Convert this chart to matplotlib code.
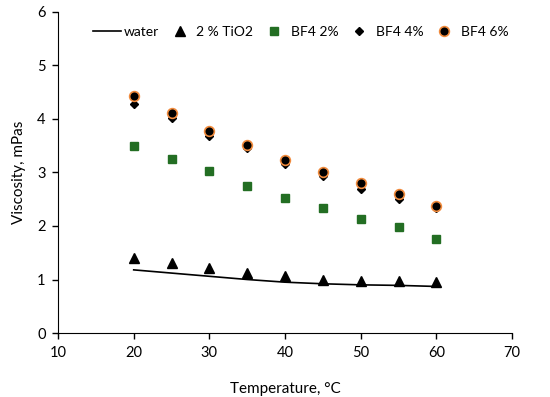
import matplotlib
matplotlib.use("Agg")
import matplotlib.pyplot as plt

temps = [20, 25, 30, 35, 40, 45, 50, 55, 60]
water = [1.18, 1.12, 1.06, 1.00, 0.95, 0.92, 0.90, 0.89, 0.87]
tio2 = [1.40, 1.30, 1.21, 1.13, 1.07, 1.00, 0.98, 0.97, 0.96]
bf4_2 = [3.50, 3.26, 3.02, 2.75, 2.52, 2.33, 2.14, 1.98, 1.75]
bf4_4 = [4.28, 4.01, 3.68, 3.45, 3.15, 2.93, 2.70, 2.50, 2.33]
bf4_6 = [4.43, 4.12, 3.78, 3.52, 3.23, 3.00, 2.80, 2.60, 2.37]

plt.rcParams["font.family"] = ["Lato", "DejaVu Sans"]
plt.rcParams["font.size"] = 11

fig = plt.figure(figsize=(5.5, 3.97), dpi=100)
ax = fig.add_axes([0.1055, 0.1612, 0.8255, 0.8086])

ax.plot(temps, water, color="black", lw=1.2, label="water")
ax.plot(temps, tio2, ls="none", marker="^", ms=6.5, color="black", label="2 % TiO2")
ax.plot(temps, bf4_2, ls="none", marker="s", ms=5.5, color="#236e23", label="BF4 2%")
ax.plot(temps, bf4_4, ls="none", marker="D", ms=4.5, color="black", label="BF4 4%")
ax.plot(temps, bf4_6, ls="none", marker="o", ms=7, color="black",
        markeredgecolor="#f08a3c", markeredgewidth=1.2, label="BF4 6%")

ax.set_xlim(10, 70)
ax.set_ylim(0, 6)
ax.set_xticks(range(10, 71, 10))
ax.set_yticks(range(0, 7))
ax.spines["top"].set_visible(False)
ax.spines["right"].set_visible(False)
ax.tick_params(direction="out", length=4, width=1, colors="black", labelsize=10.5, pad=5)
ax.set_xlabel("Temperature, °C", labelpad=16)
ax.set_ylabel("Viscosity, mPas", labelpad=8)

leg = ax.legend(loc="center left", bbox_to_anchor=(93 / 550, 1 - 32 / 397),
                bbox_transform=fig.transFigure, ncol=5, frameon=False,
                fontsize=10, handlelength=2.0, handletextpad=0.2,
                columnspacing=0.5, borderpad=0, borderaxespad=0)

fig.savefig("out.png", dpi=100)
